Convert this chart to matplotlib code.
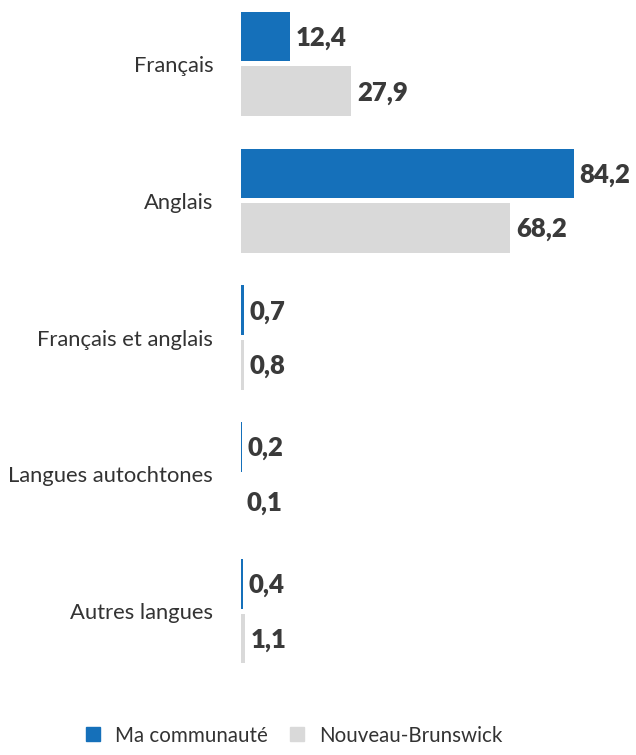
import matplotlib.pyplot as plt
from matplotlib.patches import Patch

categories = ["Français", "Anglais", "Français et anglais", "Langues autochtones", "Autres langues"]
communaute = [12.4, 84.2, 0.7, 0.2, 0.4]
nouveau_brunswick = [27.9, 68.2, 0.8, 0.1, 1.1]
series_names = ["Ma communauté", "Nouveau-Brunswick"]

BLUE = "#1570BA"
GREY = "#D9D9D9"
TEXT = "#3A3A3A"

plt.rcParams['font.family'] = ['Lato', 'DejaVu Sans']

fig = plt.figure(figsize=(6.36, 7.55), dpi=100)
ax = fig.add_axes([241 / 636, 89 / 755, 395 / 636, 657 / 755])

bar_h = 0.36
gap = 0.04
ypos = list(range(len(categories)))

y_blue = [y - (bar_h + gap) / 2 for y in ypos]
y_grey = [y + (bar_h + gap) / 2 for y in ypos]
ax.barh(y_blue, communaute, height=bar_h, color=BLUE)
ax.barh(y_grey, nouveau_brunswick, height=bar_h, color=GREY)

def fmt(v):
    return f"{v:.1f}".replace(".", ",")

for ys, vals in ((y_blue, communaute), (y_grey, nouveau_brunswick)):
    for y, v in zip(ys, vals):
        ax.annotate(fmt(v), (v, y), xytext=(4, -1), textcoords="offset points",
                    ha="left", va="center", fontsize=18.5, fontweight="heavy", color=TEXT)

ax.set_xlim(0, 100)
ax.set_ylim(4.4, -0.4)
ax.set_yticks(ypos)
ax.set_yticklabels(categories, fontsize=15.8, color="#333333")
ax.tick_params(axis="y", length=0, pad=20)
ax.set_xticks([])
for s in ax.spines.values():
    s.set_visible(False)

handles = [Patch(color=BLUE), Patch(color=GREY)]
fig.legend(handles, series_names, loc="lower center", bbox_to_anchor=(0.463, -0.012),
           ncol=2, frameon=False, fontsize=14.8, handlelength=0.65, handleheight=0.65,
           handletextpad=0.75, columnspacing=1.1, labelcolor="#333333")

fig.savefig("out.png", dpi=100)
